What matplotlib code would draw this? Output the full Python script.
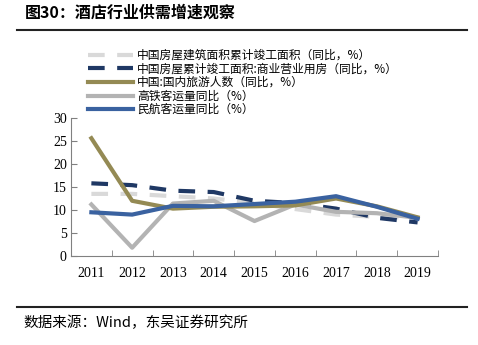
import numpy as np
import matplotlib
matplotlib.use('Agg')
import matplotlib.pyplot as plt
from matplotlib.lines import Line2D

plt.rcParams['font.family'] = ['Noto Sans CJK SC', 'DejaVu Sans']

years = ['2011', '2012', '2013', '2014', '2015', '2016', '2017', '2018', '2019']
build_area = [13.5, 13.5, 13.0, 12.5, 11.5, 10.2, 9.0, 8.5, 8.3]
commercial = [15.8, 15.4, 14.2, 13.9, 12.0, 11.5, 10.3, 8.3, 7.3]
tourists = [25.6, 12.0, 10.3, 10.7, 10.8, 11.0, 12.5, 10.8, 8.4]
rail = [11.2, 1.8, 11.4, 12.0, 7.6, 11.2, 9.6, 9.3, 8.3]
air = [9.5, 9.0, 10.9, 10.8, 11.3, 11.8, 13.0, 10.7, 8.1]

labels = ['中国房屋建筑面积累计竣工面积（同比，%）',
          '中国房屋累计竣工面积:商业营业用房（同比，%）',
          '中国:国内旅游人数（同比，%）',
          '高铁客运量同比（%）',
          '民航客运量同比（%）']
colors = ['#d9d9d9', '#1f3864', '#948a54', '#b3b3b3', '#3a62a0']

fig = plt.figure(figsize=(4.78, 3.45), dpi=100)
ax = fig.add_axes([0.1485, 0.258, 0.7678, 0.4])

x = np.arange(len(years))
ax.plot(x, build_area, color=colors[0], lw=3, dashes=(4, 3))
ax.plot(x, commercial, color=colors[1], lw=3, dashes=(4, 3))
ax.plot(x, rail, color=colors[3], lw=3)
ax.plot(x, tourists, color=colors[2], lw=3)
ax.plot(x, air, color=colors[4], lw=3)

ax.set_xlim(-0.5, len(years) - 0.5)
ax.set_ylim(0, 30)
ax.set_yticks(range(0, 31, 5))
ax.set_xticks(x)
ax.set_xticklabels(years)
ax.set_xticks(np.arange(-0.5, len(years)), minor=True)
ax.tick_params(axis='x', which='major', length=0, pad=8)
ax.tick_params(axis='x', which='minor', direction='in', length=4, color='#808080')
ax.tick_params(axis='y', direction='in', length=4, color='#808080', pad=3)
for lab in ax.get_xticklabels() + ax.get_yticklabels():
    lab.set_fontfamily('Liberation Serif')
    lab.set_fontsize(10)
for s in ['top', 'right']:
    ax.spines[s].set_visible(False)
for s in ['left', 'bottom']:
    ax.spines[s].set_color('#808080')

handles = [Line2D([], [], color=colors[0], lw=3, dashes=(4, 3)),
           Line2D([], [], color=colors[1], lw=3, dashes=(4, 3)),
           Line2D([], [], color=colors[2], lw=3),
           Line2D([], [], color=colors[3], lw=3),
           Line2D([], [], color=colors[4], lw=3)]
fig.legend(handles, labels, loc='upper left', bbox_to_anchor=(0.175, 0.872),
           frameon=False, fontsize=8.5, handlelength=3.8, handletextpad=0.3,
           labelspacing=0.05, borderaxespad=0)

fig.text(0.052, 0.962, '图30：酒店行业供需增速观察', fontsize=11.5, fontweight='bold',
         va='center', ha='left')
fig.add_artist(Line2D([0.035, 0.977], [0.913, 0.913], color='#222222', lw=1.5))
fig.add_artist(Line2D([0.035, 0.977], [0.11, 0.11], color='#222222', lw=1.5))
fig.text(0.05, 0.063, '数据来源：Wind，东吴证券研究所', fontsize=10.5, va='center', ha='left')

fig.savefig('out.png', dpi=100)
